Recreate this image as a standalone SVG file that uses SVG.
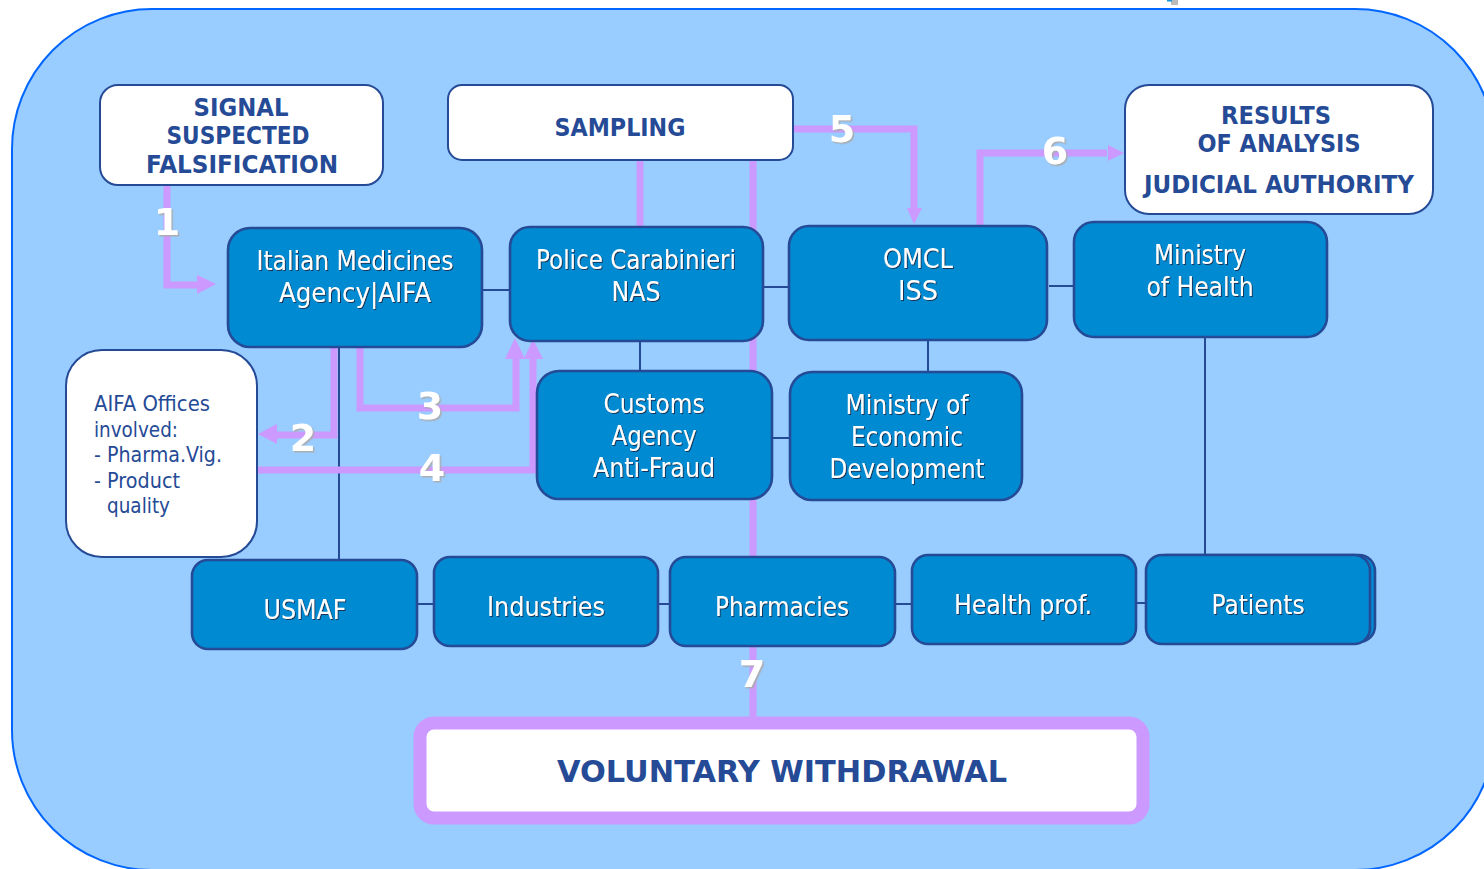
<svg xmlns="http://www.w3.org/2000/svg" width="1484" height="869" viewBox="0 0 1484 869">
<defs>
<filter id="ds" x="-10%" y="-20%" width="120%" height="140%"><feDropShadow dx="1" dy="1" stdDeviation="0.3" flood-color="#1a2a4a" flood-opacity="0.9"/></filter>
<filter id="ns" x="-20%" y="-20%" width="150%" height="150%"><feDropShadow dx="1.5" dy="1.5" stdDeviation="0.3" flood-color="#aaaaaa" flood-opacity="0.9"/></filter>
</defs>
<style>
.bg{fill:#99ccff;stroke:#0066ff;stroke-width:2}
.w{fill:#fff;stroke:#254a96;stroke-width:2}
.b{fill:#008ad2;stroke:#254a96;stroke-width:2.6}
.t{font-family:"DejaVu Sans",sans-serif;font-size:27px;fill:#fff;text-anchor:middle;filter:url(#ds)}
.h{font-family:"DejaVu Sans",sans-serif;font-size:25px;font-weight:bold;fill:#254a96;text-anchor:middle}
.o{font-family:"DejaVu Sans",sans-serif;font-size:22px;fill:#254a96}
.n{font-family:"DejaVu Sans",sans-serif;font-size:38px;font-weight:bold;fill:#fff;text-anchor:middle;filter:url(#ns)}
.p{fill:none;stroke:#cc99ff;stroke-width:7}
.pa{fill:#cc99ff;stroke:none}
.l{fill:none;stroke:#254a96;stroke-width:2}
</style>
<rect class="bg" x="12" y="9" width="1483" height="861" rx="140" ry="140"/>
<rect x="1171" y="0" width="7" height="5" fill="#bbbbbb"/><rect x="1167" y="0" width="5" height="1.5" fill="#1199dd"/>
<g id="connectors">
<path class="l" d="M482 290H511M763 287H790M1049 286H1074M640 340V372M928 340V372M772 438H791M339 347V560M1205 337V555M417 604H434M658 604H670M895 604H912M1136 603H1147"/>
<path class="p" d="M640 159V227M753 159V556"/>
<path class="p" d="M753 645V718"/>
<path class="p" d="M167 185V285H198"/>
<path class="pa" d="M197 275L216 284L197 294Z"/>
<path class="p" d="M334 348V435H276"/>
<path class="pa" d="M277 424L258 434L277 444Z"/>
<path class="p" d="M360 348V408H516V356"/>
<path class="pa" d="M505 359L515 338L525 359Z"/>
<path class="p" d="M257 470H533V358"/>
<path class="pa" d="M524 359L533 339L543 359Z"/>
<path class="p" d="M793 129H914V208"/>
<path class="pa" d="M907 208L914 224L922 208Z"/>
<path class="p" d="M980 225V153H1107"/>
<path class="pa" d="M1108 145L1124 153L1108 161Z"/>
</g>
<g id="signal"><rect class="w" x="100" y="85" width="283" height="100" rx="18"/>
<text class="h"><tspan x="241" y="116" textLength="95" lengthAdjust="spacingAndGlyphs">SIGNAL</tspan><tspan x="238" y="144" textLength="143" lengthAdjust="spacingAndGlyphs">SUSPECTED</tspan><tspan x="242" y="173" textLength="192" lengthAdjust="spacingAndGlyphs">FALSIFICATION</tspan></text></g>
<g id="sampling"><rect class="w" x="448" y="85" width="345" height="75" rx="14"/>
<text class="h" x="620" y="136" textLength="131" lengthAdjust="spacingAndGlyphs">SAMPLING</text></g>
<g id="results"><rect class="w" x="1125" y="85" width="308" height="129" rx="24"/>
<text class="h"><tspan x="1276" y="124" textLength="110" lengthAdjust="spacingAndGlyphs">RESULTS</tspan><tspan x="1279" y="152" textLength="163" lengthAdjust="spacingAndGlyphs">OF ANALYSIS</tspan><tspan x="1279" y="193" textLength="270" lengthAdjust="spacingAndGlyphs">JUDICIAL AUTHORITY</tspan></text></g>
<g id="aifa"><rect class="b" x="228" y="228" width="254" height="119" rx="22"/>
<text class="t"><tspan x="355" y="270" textLength="197" lengthAdjust="spacingAndGlyphs">Italian Medicines</tspan><tspan x="355" y="302" textLength="152" lengthAdjust="spacingAndGlyphs">Agency|AIFA</tspan></text></g>
<g id="police"><rect class="b" x="510" y="227" width="253" height="114" rx="20"/>
<text class="t"><tspan x="636" y="269" textLength="200" lengthAdjust="spacingAndGlyphs">Police Carabinieri</tspan><tspan x="636" y="301" textLength="49" lengthAdjust="spacingAndGlyphs">NAS</tspan></text></g>
<g id="omcl"><rect class="b" x="789" y="226" width="258" height="114" rx="20"/>
<text class="t"><tspan x="918" y="268" textLength="70" lengthAdjust="spacingAndGlyphs">OMCL</tspan><tspan x="918" y="300" textLength="40" lengthAdjust="spacingAndGlyphs">ISS</tspan></text></g>
<g id="moh"><rect class="b" x="1074" y="222" width="253" height="115" rx="20"/>
<text class="t"><tspan x="1200" y="264" textLength="92" lengthAdjust="spacingAndGlyphs">Ministry</tspan><tspan x="1200" y="296" textLength="107" lengthAdjust="spacingAndGlyphs">of Health</tspan></text></g>
<g id="offices"><rect class="w" x="66" y="350" width="191" height="207" rx="36"/>
<text class="o"><tspan x="94" y="411" textLength="116" lengthAdjust="spacingAndGlyphs">AIFA Offices</tspan><tspan x="94" y="437" textLength="84" lengthAdjust="spacingAndGlyphs">involved:</tspan><tspan x="94" y="462" textLength="128" lengthAdjust="spacingAndGlyphs">- Pharma.Vig.</tspan><tspan x="94" y="488" textLength="86" lengthAdjust="spacingAndGlyphs">- Product</tspan><tspan x="107" y="513" textLength="63" lengthAdjust="spacingAndGlyphs">quality</tspan></text></g>
<g id="customs"><rect class="b" x="537" y="371" width="235" height="128" rx="22"/>
<text class="t"><tspan x="654" y="413" textLength="101" lengthAdjust="spacingAndGlyphs">Customs</tspan><tspan x="654" y="445" textLength="85" lengthAdjust="spacingAndGlyphs">Agency</tspan><tspan x="654" y="477" textLength="122" lengthAdjust="spacingAndGlyphs">Anti-Fraud</tspan></text></g>
<g id="mise"><rect class="b" x="790" y="372" width="232" height="128" rx="22"/>
<text class="t"><tspan x="907" y="414" textLength="123" lengthAdjust="spacingAndGlyphs">Ministry of</tspan><tspan x="907" y="446" textLength="112" lengthAdjust="spacingAndGlyphs">Economic</tspan><tspan x="907" y="478" textLength="155" lengthAdjust="spacingAndGlyphs">Development</tspan></text></g>
<g id="usmaf"><rect class="b" x="192" y="560" width="225" height="89" rx="16"/>
<text class="t" x="305" y="619" textLength="83" lengthAdjust="spacingAndGlyphs">USMAF</text></g>
<g id="industries"><rect class="b" x="434" y="557" width="224" height="89" rx="16"/>
<text class="t" x="546" y="616" textLength="118" lengthAdjust="spacingAndGlyphs">Industries</text></g>
<g id="pharmacies"><rect class="b" x="670" y="557" width="225" height="89" rx="16"/>
<text class="t" x="782" y="616" textLength="134" lengthAdjust="spacingAndGlyphs">Pharmacies</text></g>
<g id="healthprof"><rect class="b" x="912" y="555" width="224" height="89" rx="16"/>
<text class="t" x="1023" y="614" textLength="138" lengthAdjust="spacingAndGlyphs">Health prof.</text></g>
<g id="patients"><rect class="b" x="1151" y="555" width="224" height="87" rx="16"/><rect class="b" x="1146" y="555" width="224" height="89" rx="16"/>
<text class="t" x="1258" y="614" textLength="93" lengthAdjust="spacingAndGlyphs">Patients</text></g>
<g id="withdrawal"><rect x="420" y="723" width="723" height="95" rx="14" fill="#fff" stroke="#cc99ff" stroke-width="13"/>
<text x="782" y="782" font-family="'DejaVu Sans',sans-serif" font-size="31" font-weight="bold" fill="#254a96" text-anchor="middle" textLength="450" lengthAdjust="spacingAndGlyphs">VOLUNTARY WITHDRAWAL</text></g>
<g id="numbers">
<text class="n" x="167" y="235">1</text><text class="n" x="303" y="451">2</text><text class="n" x="430" y="419">3</text><text class="n" x="432" y="481">4</text><text class="n" x="842" y="142">5</text><text class="n" x="1055" y="164">6</text><text class="n" x="752" y="687">7</text>
</g>
</svg>
